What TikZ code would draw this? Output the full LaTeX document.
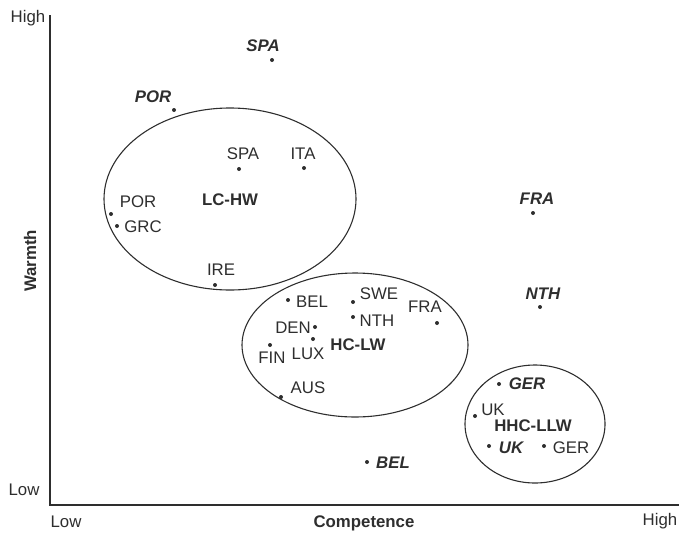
\documentclass[tikz,border=0pt]{standalone}
\usepackage{fontspec}
\setmainfont{Liberation Sans}
\usetikzlibrary{shapes.geometric}
\definecolor{ink}{HTML}{2E2E2E}
\tikzset{
  lbl/.style={inner sep=0pt, text=ink, font=\fontsize{16.8}{19}\selectfont},
  blbl/.style={lbl, font=\fontsize{16.8}{19}\selectfont\bfseries},
  bilbl/.style={lbl, font=\fontsize{16.8}{19}\selectfont\bfseries\itshape},
  pt/.style={circle, fill=ink, inner sep=0pt, minimum size=4pt},
  grp/.style={ellipse, draw=ink, line width=1.1pt, inner sep=0pt},
  axis/.style={draw=ink, line width=1.3pt}
}
\begin{document}
\begin{tikzpicture}[x=1pt,y=-1pt]
\useasboundingbox (0,0) rectangle (679,533);
% axes
\coordinate (top) at (50,15);
\coordinate (org) at (50,505);
\coordinate (right) at (679,505);
\draw[axis] (top) -- (org) -- (right);
\node[lbl] (hiW) at (28,18) {High};
\node[lbl] (loW) at (24,490) {Low};
\node[blbl, rotate=90] (warmth) at (30,261) {Warmth};
\node[lbl] (loC) at (66,522) {Low};
\node[blbl] (comp) at (364,523) {Competence};
\node[lbl] (hiC) at (660,521) {High};
% groups
\node[grp, minimum width=252pt, minimum height=182pt] (g1) at (230,199) {};
\node[grp, minimum width=226pt, minimum height=144pt] (g2) at (355,345) {};
\node[grp, minimum width=140pt, minimum height=118pt] (g3) at (535,424) {};
% outside points
\node[pt] (pSPAb) at (272,60) {};  \node[bilbl] (lSPAb) at (263,46) {SPA};
\node[pt] (pPORb) at (174,110) {}; \node[bilbl] (lPORb) at (153,97) {POR};
\node[pt] (pFRAb) at (533,213) {}; \node[bilbl] (lFRAb) at (537,199) {FRA};
\node[pt] (pNTHb) at (540,307) {}; \node[bilbl] (lNTHb) at (543,294) {NTH};
\node[pt] (pBELb) at (367,462) {}; \node[bilbl] (lBELb) at (393,463) {BEL};
% group 1
\node[pt] (pSPA) at (239,169) {}; \node[lbl] (lSPA) at (243,154) {SPA};
\node[pt] (pITA) at (304,168) {}; \node[lbl] (lITA) at (303,154) {ITA};
\node[blbl] (lLCHW) at (230,200) {LC-HW};
\node[pt] (pPOR) at (111,214) {}; \node[lbl] (lPOR) at (138,202) {POR};
\node[pt] (pGRC) at (117,226) {}; \node[lbl] (lGRC) at (143,227) {GRC};
\node[pt] (pIRE) at (215,285) {}; \node[lbl] (lIRE) at (221,270) {IRE};
% group 2
\node[pt] (pBEL) at (288,300) {}; \node[lbl] (lBEL) at (312,302) {BEL};
\node[pt] (pSWE) at (353,302) {}; \node[lbl] (lSWE) at (379,294) {SWE};
\node[pt] (pNTH) at (353,317) {}; \node[lbl] (lNTH) at (377,321) {NTH};
\node[pt] (pFRA) at (437,323) {}; \node[lbl] (lFRA) at (425,307) {FRA};
\node[pt] (pDEN) at (315,327) {}; \node[lbl] (lDEN) at (293,328) {DEN};
\node[pt] (pLUX) at (313,339) {}; \node[lbl] (lLUX) at (308,354) {LUX};
\node[pt] (pFIN) at (270,345) {}; \node[lbl] (lFIN) at (272,358) {FIN};
\node[blbl] (lHCLW) at (358,345) {HC-LW};
\node[pt] (pAUS) at (281,397) {}; \node[lbl] (lAUS) at (308,388) {AUS};
% group 3
\node[pt] (pGERb) at (499,384) {}; \node[bilbl] (lGERb) at (527,384) {GER};
\node[pt] (pUK) at (475,416) {};   \node[lbl] (lUK) at (493,410) {UK};
\node[blbl] (lHHC) at (533,426) {HHC-LLW};
\node[pt] (pUKb) at (489,446) {};  \node[bilbl] (lUKb) at (511,448) {UK};
\node[pt] (pGER) at (544,446) {};  \node[lbl] (lGER) at (571,448) {GER};
\end{tikzpicture}
\end{document}
